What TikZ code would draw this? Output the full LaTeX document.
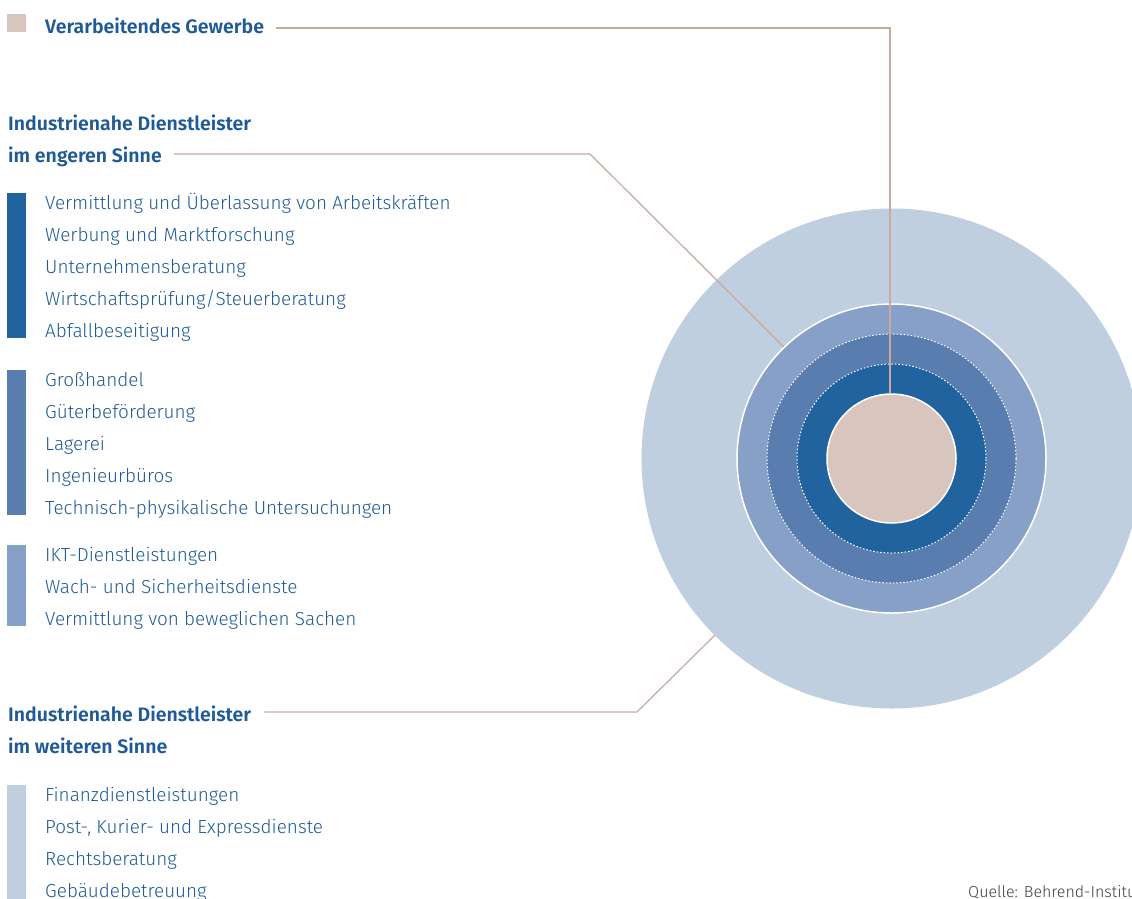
\documentclass[tikz,border=0pt]{standalone}
\usepackage{fontspec}
\setmainfont{Fira Sans Light}[BoldFont={Fira Sans SemiBold}]
\definecolor{beige}{HTML}{D8C5BE}
\definecolor{dblue}{HTML}{21639E}
\definecolor{mblue}{HTML}{5A7DB0}
\definecolor{lblue}{HTML}{87A0C7}
\definecolor{pblue}{HTML}{C0CFE0}
\definecolor{txtblue}{HTML}{1F5A96}
\definecolor{linec}{HTML}{C8A89F}
\tikzset{
  item/.style={anchor=base west, inner sep=0pt, text=txtblue, font=\fontsize{18.9}{21}\selectfont},
  head/.style={anchor=base west, inner sep=0pt, text=txtblue, font=\bfseries\fontsize{19.5}{21}\selectfont},
  bar/.style={inner sep=0pt, anchor=north west, minimum width=19pt},
  ring/.style={circle, inner sep=0pt},
  conn/.style={draw=linec, line width=1.2pt},
  dots/.style={draw=white, line width=1pt, dash pattern=on 1.5pt off 2pt}
}
\begin{document}
\begin{tikzpicture}[x=1pt,y=1pt]
\useasboundingbox (0,0) rectangle (1132,-898);
\clip (0,0) rectangle (1132,-898);
% circles
\node[ring, fill=pblue, minimum size=500pt] (outer) at (891.5,-458.5) {};
\node[ring, fill=lblue, draw=white, line width=1.5pt, minimum size=309pt] (r2) at (891.5,-458.5) {};
\node[ring, fill=mblue, minimum size=249pt] (r3) at (891.5,-458.5) {};
\draw[dots] (r3.center) circle[radius=124.5];
\node[ring, fill=dblue, minimum size=189pt] (r4) at (891.5,-458.5) {};
\draw[dots] (r4.center) circle[radius=94.5];
\node[ring, fill=beige, draw=white, line width=1.5pt, minimum size=129pt] (inner) at (891.5,-458.5) {};
% legend squares and bars
\node[bar, fill=beige, minimum height=18pt] (sq) at (7,-14) {};
\node[bar, fill=dblue, minimum height=145pt] (b1) at (7,-193) {};
\node[bar, fill=mblue, minimum height=145pt] (b2) at (7,-370) {};
\node[bar, fill=lblue, minimum height=81pt] (b3) at (7,-545) {};
\node[bar, fill=pblue, minimum height=120pt] (b4) at (7,-785) {};
% headings
\node[head] (verg) at (45,-33) {Verarbeitendes Gewerbe};
\node[head] (ih1) at (8,-130) {Industrienahe Dienstleister};
\node[head] (eng) at (8,-162) {im engeren Sinne};
\node[head] (ih2) at (8,-721) {Industrienahe Dienstleister};
\node[head] (wei) at (8,-753) {im weiteren Sinne};
% items
\node[item] (a1) at (45,-209) {Vermittlung und Überlassung von Arbeitskräften};
\node[item] (a2) at (45,-241) {Werbung und Marktforschung};
\node[item] (a3) at (45,-273) {Unternehmensberatung};
\node[item] (a4) at (45,-305) {Wirtschaftsprüfung/Steuerberatung};
\node[item] (a5) at (45,-337) {Abfallbeseitigung};
\node[item] (c1) at (45,-386) {Großhandel};
\node[item] (c2) at (45,-418) {Güterbeförderung};
\node[item] (c3) at (45,-450) {Lagerei};
\node[item] (c4) at (45,-482) {Ingenieurbüros};
\node[item] (c5) at (45,-514) {Technisch-physikalische Untersuchungen};
\node[item] (d1) at (45,-561) {IKT-Dienstleistungen};
\node[item] (d2) at (45,-593) {Wach- und Sicherheitsdienste};
\node[item] (d3) at (45,-625) {Vermittlung von beweglichen Sachen};
\node[item] (e1) at (45,-801) {Finanzdienstleistungen};
\node[item] (e2) at (45,-833) {Post-, Kurier- und Expressdienste};
\node[item] (e3) at (45,-865) {Rechtsberatung};
\node[item] (e4) at (45,-897) {Gebäudebetreuung};
\node[item, font=\fontsize{16}{18}\selectfont, text=black!75] (src) at (968,-897) {Quelle: Behrend-Institut};
% connectors
\coordinate (k1) at (890,-28);
\coordinate (k2) at (590,-154);
\coordinate (k3) at (637,-712);
\draw[conn] ([xshift=12pt]verg.east |- k1) -- (k1) -- (inner.north -| k1);
\draw[conn] ([xshift=12pt]eng.east |- k2) -- (k2) -- (r2.134.5);
\draw[conn] ([xshift=13pt]ih2.east |- k3) -- (k3) -- (outer.225);
\end{tikzpicture}
\end{document}
